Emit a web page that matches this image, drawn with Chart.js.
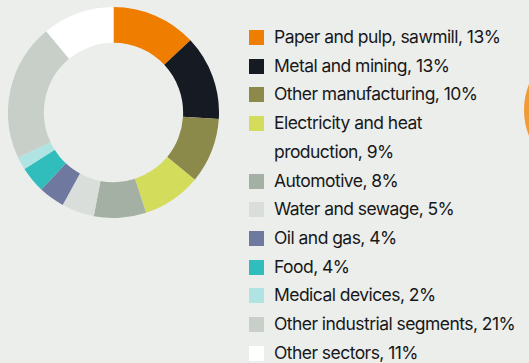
<!DOCTYPE html>
<html>
<head>
<meta charset="utf-8">
<script src="https://cdn.jsdelivr.net/npm/chart.js@4"></script>
<style>
  html, body { margin: 0; padding: 0; }
  body { width: 529px; height: 363px; background: #eceeeb; position: relative; overflow: hidden; font-family: Inter, 'Noto Sans', sans-serif; }
  #donut-wrap { position: absolute; left: 8px; top: 7px; width: 211px; height: 211px; }
  #legend { position: absolute; left: 249px; top: 23px; margin: 0; padding: 0; list-style: none; }
  #legend li { position: relative; padding-left: 25px; font-size: 17.5px; line-height: 28.7px; letter-spacing: -0.55px; color: #17181a; white-space: nowrap; }
  #legend li .sw { position: absolute; left: 0; top: 7px; width: 15px; height: 15px; }
  #next-chart { position: absolute; left: 524px; top: 40px; width: 140px; height: 140px; border-radius: 50%; background: #f39a36; }
</style>
</head>
<body>
<div id="donut-wrap"><canvas id="donut"></canvas></div>
<ul id="legend"></ul>
<div id="next-chart"></div>
<script>
// Emisiones por sector industrial (%)
const sectors = [
    'Paper and pulp, sawmill',
    'Metal and mining',
    'Other manufacturing',
    ['Electricity and heat', 'production'],
    'Automotive',
    'Water and sewage',
    'Oil and gas',
    'Food',
    'Medical devices',
    'Other industrial segments',
    'Other sectors'
];
const shares = [13, 13, 10, 9, 8, 5, 4, 4, 2, 21, 11];
const colors = ['#ef7d00', '#161a22', '#8c8a4a', '#d4dc5c', '#a5b0a4', '#d9dedb', '#6f79a0', '#30bdbb', '#b0e4e2', '#c8cfc8', '#ffffff'];

const chart = new Chart(document.getElementById('donut').getContext('2d'), {
    type: 'doughnut',
    data: {
        labels: sectors,
        datasets: [{ data: shares, backgroundColor: colors, borderWidth: 0, hoverOffset: 0 }]
    },
    options: {
        responsive: true, maintainAspectRatio: false, animation: false,
        cutout: '66%',
        plugins: { legend: { display: false }, tooltip: { enabled: false } }
    }
});

// leyenda HTML (permite el salto de línea en "Electricity and heat production")
const ul = document.getElementById('legend');
chart.data.labels.forEach((lab, i) => {
    const li = document.createElement('li');
    const sw = document.createElement('span');
    sw.className = 'sw';
    sw.style.background = colors[i];
    li.appendChild(sw);
    const parts = Array.isArray(lab) ? lab : [lab];
    parts.forEach((p, k) => {
        if (k > 0) li.appendChild(document.createElement('br'));
        li.appendChild(document.createTextNode(k === parts.length - 1 ? `${p}, ${shares[i]}%` : p));
    });
    ul.appendChild(li);
});
</script>
</body>
</html>
